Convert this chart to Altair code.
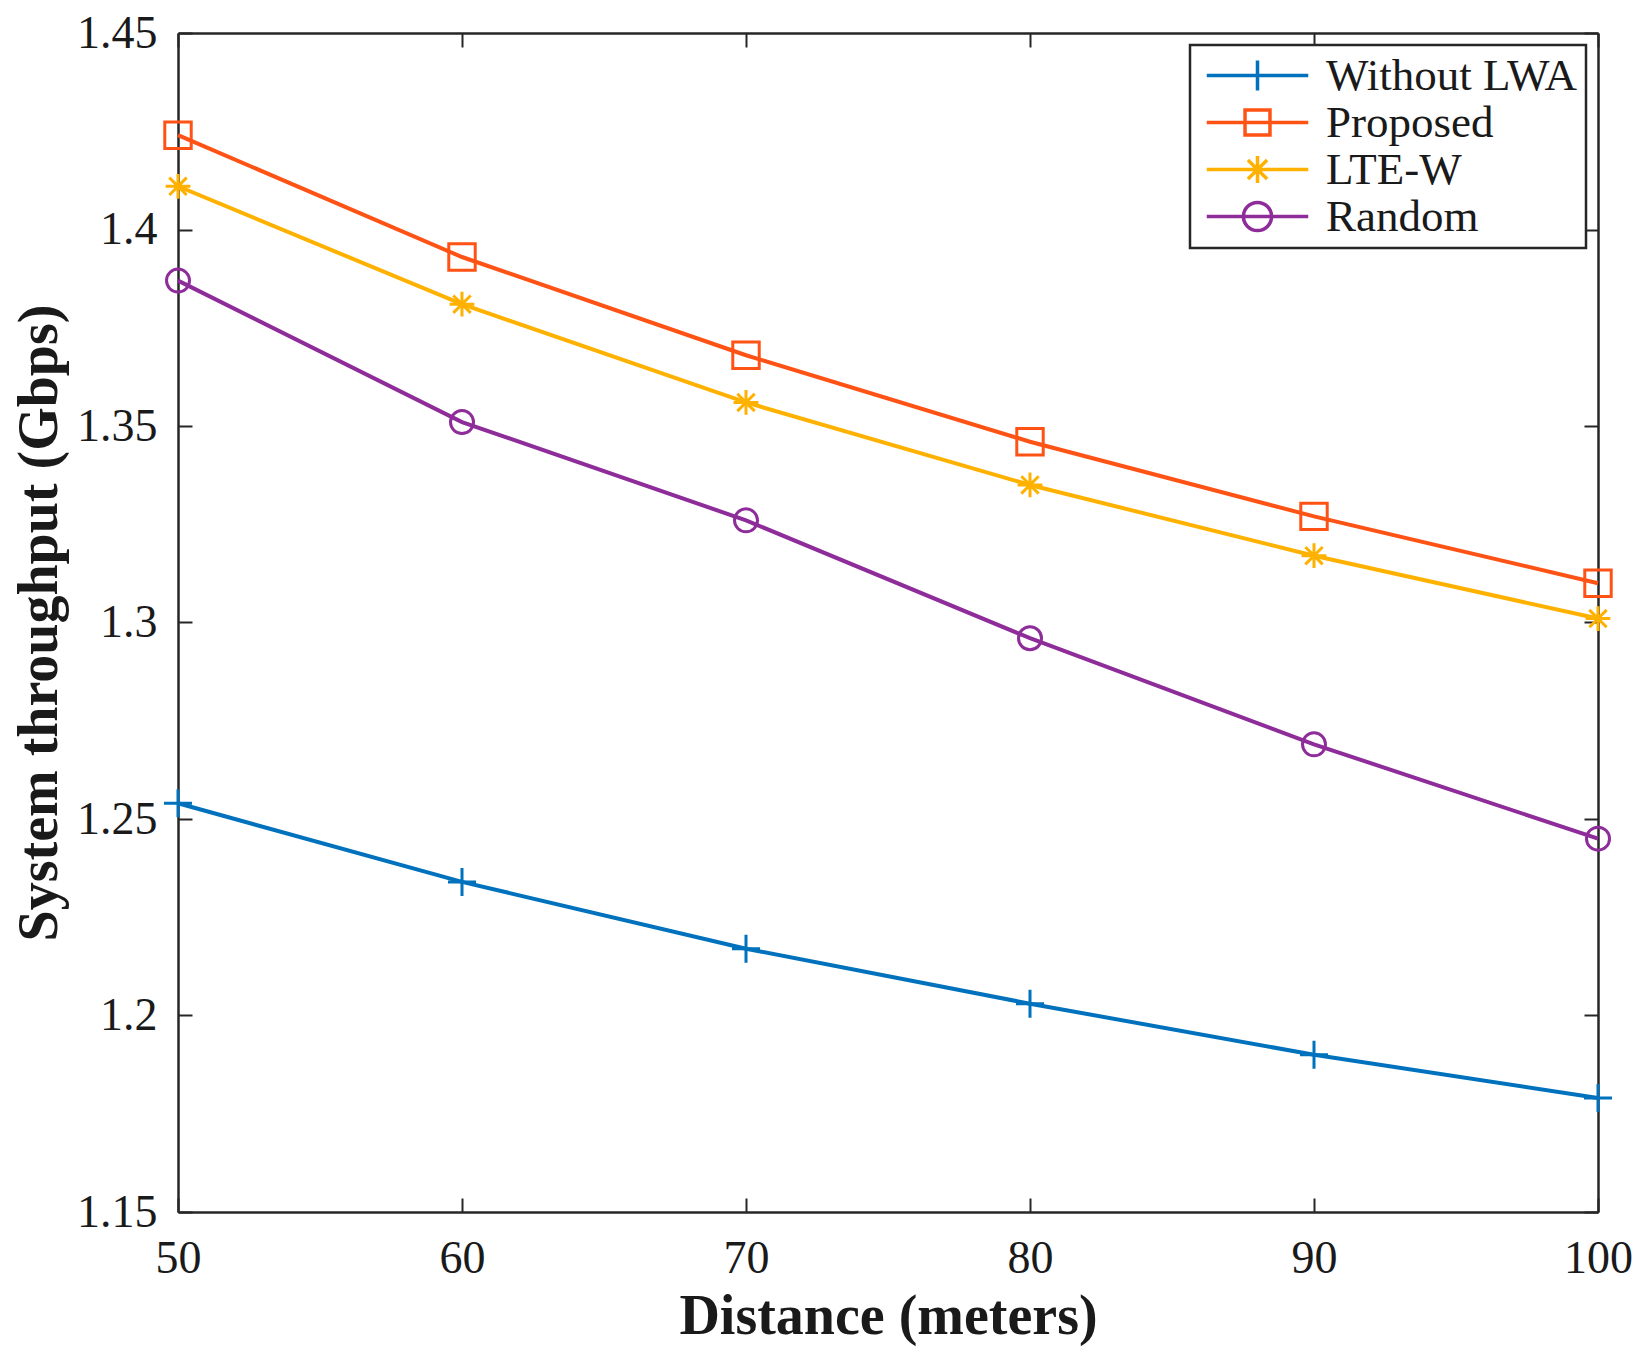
import altair as alt
import pandas as pd

# ---- data ----
distance = [50, 60, 70, 80, 90, 100]
without_lwa = [1.254, 1.234, 1.217, 1.203, 1.190, 1.179]
proposed = [1.424, 1.393, 1.368, 1.346, 1.327, 1.310]
lte_w = [1.411, 1.381, 1.356, 1.335, 1.317, 1.301]
random_sel = [1.387, 1.351, 1.326, 1.296, 1.269, 1.245]

series_names = ["Without LWA", "Proposed", "LTE-W", "Random"]
series_values = [without_lwa, proposed, lte_w, random_sel]
colors = ["#0072BD", "#FF5215", "#FFB100", "#8E2C9A"]

x_ticks = [50, 60, 70, 80, 90, 100]
y_ticks = [1.15, 1.2, 1.25, 1.3, 1.35, 1.4, 1.45]

rows = []
for name, vals in zip(series_names, series_values):
    for d, v in zip(distance, vals):
        rows.append({"distance": d, "throughput": v, "series": name})
df = pd.DataFrame(rows)

FONT = "Liberation Serif"
W, H = 1420, 1179
AX = "#262626"

marker_shapes = [
    "M-1,0H1M0,-1V1",
    "square",
    "M-1,0H1M0,-1V1M-0.7,-0.7L0.7,0.7M-0.7,0.7L0.7,-0.7",
    "circle",
]
marker_sizes = [784, 529, 900, 841]

legend_shapes = [
    "M-3.5,0H3.5M0,-1.03V1.03",
    "M-3.5,0H3.5M-0.86,-0.86H0.86V0.86H-0.86Z",
    "M-3.5,0H3.5M0,-0.93V0.93M-0.66,-0.66L0.66,0.66M-0.66,0.66L0.66,-0.66",
    "M-3.5,0H3.5M-0.97,0A0.97,0.97,0,1,0,0.97,0A0.97,0.97,0,1,0,-0.97,0Z",
]

xs = alt.Scale(domain=[50, 100], nice=False, zero=False)
ys = alt.Scale(domain=[1.15, 1.45], nice=False, zero=False)
color_scale = alt.Scale(domain=series_names, range=colors)

common = dict(
    grid=False,
    domainColor=AX,
    domainWidth=2.5,
    tickColor=AX,
    tickWidth=2,
    tickSize={"expr": "-14"},
    labelFlush=False,
)

x_bottom = alt.Axis(
    values=x_ticks, format="d", title="Distance (meters)",
    labelFont=FONT, labelFontSize=46, labelColor="#1a1a1a", labelPadding=38,
    titleFont=FONT, titleFontSize=56, titleFontWeight="bold", titleColor="#1a1a1a",
    titlePadding=8, **common,
)
y_left = alt.Axis(
    values=y_ticks, format="~g", title="System throughput (Gbps)",
    labelFont=FONT, labelFontSize=46, labelColor="#1a1a1a", labelPadding=35,
    titleFont=FONT, titleFontSize=56, titleFontWeight="bold", titleColor="#1a1a1a",
    titlePadding=8, **common,
)
x_top = alt.Axis(values=x_ticks, orient="top", labels=False, title=None, **common)
y_right = alt.Axis(values=y_ticks, orient="right", labels=False, title=None, **common)

lines = alt.Chart(df).mark_line(strokeWidth=4).encode(
    x=alt.X("distance:Q", scale=xs, axis=x_bottom),
    y=alt.Y("throughput:Q", scale=ys, axis=y_left),
    color=alt.Color("series:N", scale=color_scale, legend=None),
)

points = alt.Chart(df).mark_point(filled=False, strokeWidth=3, opacity=1).encode(
    x=alt.X("distance:Q", scale=xs, axis=None),
    y=alt.Y("throughput:Q", scale=ys, axis=None),
    color=alt.Color("series:N", scale=color_scale, legend=None),
    shape=alt.Shape("series:N", scale=alt.Scale(domain=series_names, range=marker_shapes), legend=None),
    size=alt.Size("series:N", scale=alt.Scale(domain=series_names, range=marker_sizes), legend=None),
)

hidden = alt.Chart(df).mark_point(filled=False, opacity=0).encode(
    x=alt.X("distance:Q", scale=xs, axis=x_top),
    y=alt.Y("throughput:Q", scale=ys, axis=y_right),
    color=alt.Color("series:N", scale=color_scale, legend=alt.Legend(title=None)),
    shape=alt.Shape("series:N", scale=alt.Scale(domain=series_names, range=legend_shapes),
                    legend=alt.Legend(title=None)),
)

chart = (
    alt.layer(lines, points, hidden)
    .resolve_scale(color="independent", shape="independent", size="independent")
    .resolve_axis(x="independent", y="independent")
    .properties(
        width=W, height=H,
        autosize=alt.AutoSizeParams(type="none"),
        padding={"left": 170, "top": 25, "right": 42, "bottom": 140},
        background="white",
    )
    .configure_view(stroke=None)
    .configure_legend(
        orient="top-right", offset=12, padding=8,
        fillColor="white", strokeColor=AX, strokeWidth=2.5,
        labelFont=FONT, labelFontSize=45, labelColor="#1a1a1a", labelLimit=500,
        labelOffset=46, symbolOffset=37, symbolSize=841, symbolStrokeWidth=3.5,
        symbolOpacity=1, rowPadding=1,
    )
)

chart.save("out.html", embed_options={"renderer": "svg", "actions": False})
